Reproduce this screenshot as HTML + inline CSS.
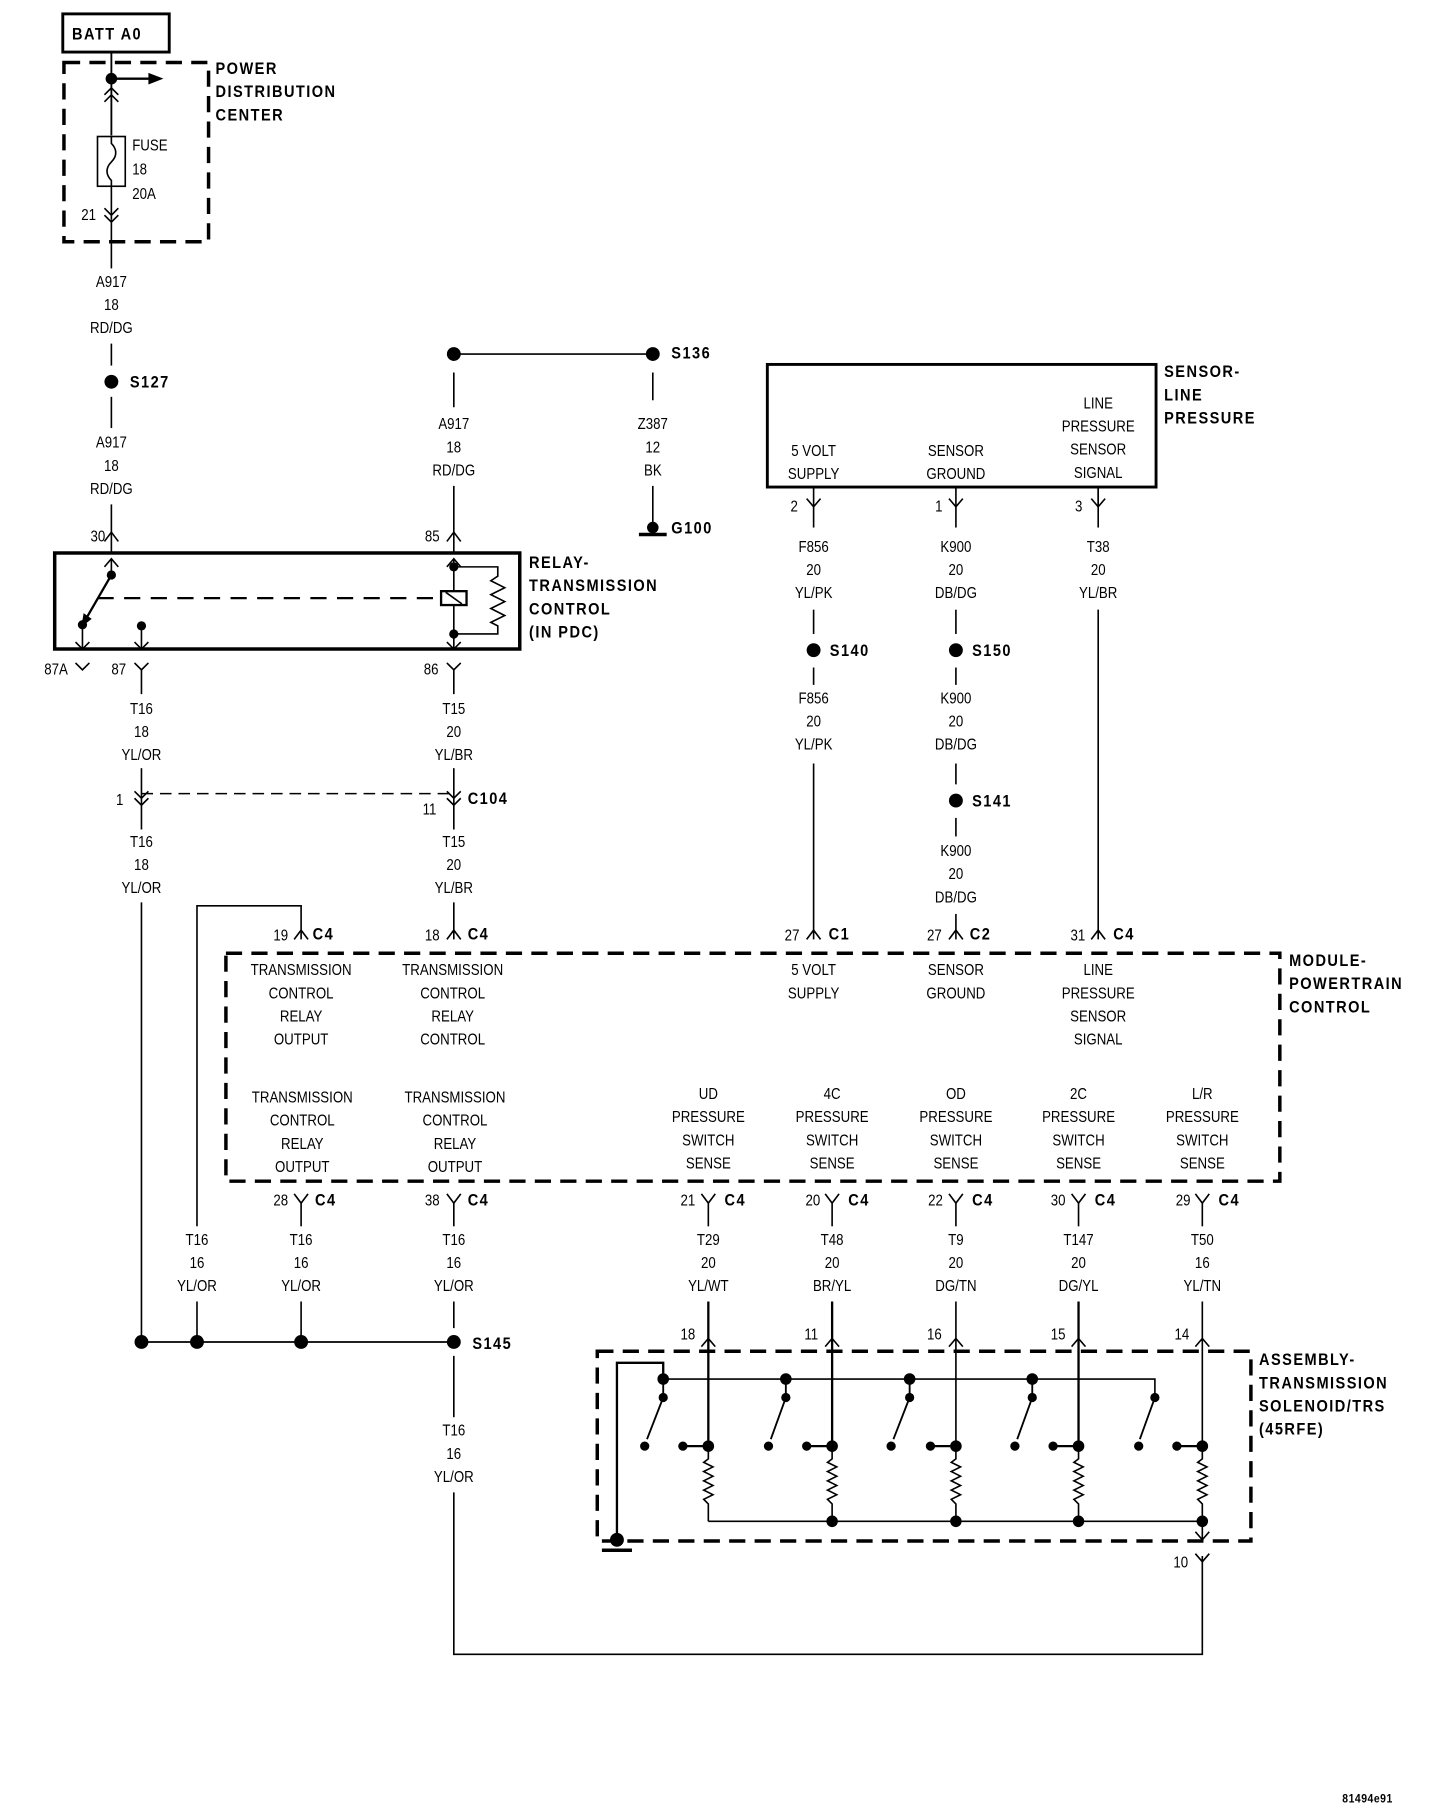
<!DOCTYPE html>
<html><head><meta charset="utf-8"><style>
html,body{margin:0;padding:0;background:#fff;}
svg{display:block}
text{font-family:"Liberation Sans Narrow","Liberation Sans",sans-serif;font-size:13.5px;fill:#000;transform-box:fill-box;transform-origin:left center;transform:scaleX(0.85)}
.c text,text.c{transform-origin:center}
.b text{font-weight:bold;font-size:14px;letter-spacing:1.4px;transform:scaleX(0.9)}
</style></head><body>
<svg width="1456" height="1814" viewBox="0 0 1258 1568" xmlns="http://www.w3.org/2000/svg">
<g fill="none" stroke="#000" stroke-width="1.4">
<rect x="54" y="12" width="92" height="33" stroke-width="2.5"/>
<rect x="55" y="54" width="125" height="155" stroke-width="3" stroke-dasharray="14 8"/>
<line x1="96" y1="45" x2="96" y2="117" stroke-width="1.6"/>
<line x1="96" y1="68" x2="130" y2="68" stroke-width="2"/>
<polyline points="90,82 96,76 102,82"/><polyline points="90,88 96,82 102,88"/>
<rect x="84" y="118" width="24" height="43"/>
<path d="M96,118 V124 C100,128 102,134 96,140 C90,146 92,152 96,156 V161 V190"/>
<polyline points="90,180 96,186 102,180"/><polyline points="90,186 96,192 102,186"/>
<line x1="96" y1="190" x2="96" y2="232"/>
<line x1="96" y1="297" x2="96" y2="316"/>
<line x1="96" y1="343" x2="96" y2="370"/>
<line x1="96" y1="436" x2="96" y2="478"/>
<polyline points="90,468 96,460 102,468"/>
<rect x="47" y="478" width="402" height="83" stroke-width="3"/>
<polyline points="90,490 96,483 102,490"/>
<line x1="96" y1="483" x2="96" y2="497"/>
<line x1="96" y1="497" x2="74" y2="535" stroke-width="2"/>
<line x1="84" y1="517" x2="381" y2="517" stroke-width="2" stroke-dasharray="14 9"/>
<rect x="381" y="511" width="22" height="12" stroke-width="2"/>
<line x1="385" y1="512" x2="399" y2="522"/>
<line x1="392" y1="483" x2="392" y2="511"/><line x1="392" y1="523" x2="392" y2="561"/>
<polyline points="386,490 392,483 398,490"/>
<polyline points="392,490 430,490 430,498 424,502 436,508 424,514 436,520 424,526 436,532 424,538 430,541 430,548 392,548"/>
<line x1="71" y1="540" x2="71" y2="561"/><polyline points="65,555 71,561 77,555"/>
<line x1="122" y1="541" x2="122" y2="561"/><polyline points="116,555 122,561 128,555"/>
<polyline points="386,555 392,561 398,555"/>
<polyline points="65,573 71,579 77,573"/>
<polyline points="116,573 122,579 128,573"/><line x1="122" y1="579" x2="122" y2="600"/>
<polyline points="386,573 392,579 398,573"/><line x1="392" y1="579" x2="392" y2="600"/>
<line x1="122" y1="664" x2="122" y2="717"/>
<line x1="392" y1="664" x2="392" y2="717"/>
<polyline points="116,684 122,690 128,684"/><polyline points="116,690 122,696 128,690"/>
<polyline points="386,684 392,690 398,684"/><polyline points="386,690 392,696 398,690"/>
<line x1="122" y1="686" x2="392" y2="686" stroke-dasharray="10 6"/>
<line x1="122" y1="780" x2="122" y2="1160"/>
<line x1="392" y1="780" x2="392" y2="812"/>
<polyline points="386,812 392,804 398,812"/>
<polyline points="170,1060 170,783 260,783 260,812"/>
<polyline points="254,812 260,804 266,812"/>
<line x1="392" y1="306" x2="564" y2="306"/>
<line x1="392" y1="322" x2="392" y2="352"/>
<line x1="392" y1="420" x2="392" y2="478"/>
<polyline points="386,468 392,460 398,468"/>
<line x1="564" y1="322" x2="564" y2="346"/>
<line x1="564" y1="420" x2="564" y2="456"/>
<line x1="552" y1="462" x2="576" y2="462" stroke-width="3"/>
<rect x="663" y="315" width="336" height="106" stroke-width="2.5"/>
<polyline points="697,431 703,438 709,431"/><line x1="703" y1="438" x2="703" y2="456"/>
<polyline points="820,431 826,438 832,431"/><line x1="826" y1="421" x2="826" y2="456"/>
<polyline points="943,431 949,438 955,431"/><line x1="949" y1="421" x2="949" y2="456"/>
<line x1="703" y1="421" x2="703" y2="438"/><line x1="949" y1="421" x2="949" y2="438"/>
<line x1="703" y1="527" x2="703" y2="548"/>
<line x1="703" y1="577" x2="703" y2="592"/>
<line x1="703" y1="660" x2="703" y2="812"/>
<polyline points="697,812 703,804 709,812"/>
<line x1="826" y1="527" x2="826" y2="548"/>
<line x1="826" y1="577" x2="826" y2="592"/>
<line x1="826" y1="660" x2="826" y2="678"/>
<line x1="826" y1="707" x2="826" y2="723"/>
<line x1="826" y1="790" x2="826" y2="812"/>
<polyline points="820,812 826,804 832,812"/>
<line x1="949" y1="527" x2="949" y2="812"/>
<polyline points="943,812 949,804 955,812"/>
<rect x="195" y="824" width="911" height="197" stroke-width="3" stroke-dasharray="14 8"/>
<g>
<polyline points="254,1032 260,1040 266,1032"/><line x1="260" y1="1040" x2="260" y2="1060"/>
<polyline points="386,1032 392,1040 398,1032"/><line x1="392" y1="1040" x2="392" y2="1060"/>
<polyline points="606,1032 612,1040 618,1032"/><line x1="612" y1="1040" x2="612" y2="1060"/>
<polyline points="713,1032 719,1040 725,1032"/><line x1="719" y1="1040" x2="719" y2="1060"/>
<polyline points="820,1032 826,1040 832,1032"/><line x1="826" y1="1040" x2="826" y2="1060"/>
<polyline points="926,1032 932,1040 938,1032"/><line x1="932" y1="1040" x2="932" y2="1060"/>
<polyline points="1033,1032 1039,1040 1045,1032"/><line x1="1039" y1="1040" x2="1039" y2="1060"/>
</g>
<line x1="170" y1="1125" x2="170" y2="1160"/>
<line x1="260" y1="1125" x2="260" y2="1160"/>
<line x1="392" y1="1125" x2="392" y2="1148"/>
<line x1="122" y1="1160" x2="392" y2="1160" stroke-width="1.6"/>
<line x1="392" y1="1172" x2="392" y2="1225"/>
<polyline points="392,1290 392,1430 1039,1430 1039,1345"/>
<polyline points="1033,1343 1039,1350 1045,1343"/>
<g>
<line x1="612" y1="1125" x2="612" y2="1250" stroke-width="2"/><polyline points="606,1164 612,1157 618,1164"/>
<line x1="719" y1="1125" x2="719" y2="1250" stroke-width="2"/><polyline points="713,1164 719,1157 725,1164"/>
<line x1="826" y1="1125" x2="826" y2="1250"/><polyline points="820,1164 826,1157 832,1164"/>
<line x1="932" y1="1125" x2="932" y2="1250" stroke-width="2"/><polyline points="926,1164 932,1157 938,1164"/>
<line x1="1039" y1="1125" x2="1039" y2="1250"/><polyline points="1033,1164 1039,1157 1045,1164"/>
</g>
<rect x="516" y="1168" width="565" height="164" stroke-width="3" stroke-dasharray="14 8"/>
<polyline points="533,1332 533,1178 573,1178 573,1192" stroke-width="2"/>
<polyline points="573,1192 998,1192 998,1208"/>
<g stroke-width="1.6">
<line x1="573" y1="1192" x2="573" y2="1208"/><line x1="573" y1="1208" x2="559" y2="1244"/>
<line x1="679" y1="1192" x2="679" y2="1208"/><line x1="679" y1="1208" x2="666" y2="1244"/>
<line x1="786" y1="1192" x2="786" y2="1208"/><line x1="786" y1="1208" x2="772" y2="1244"/>
<line x1="892" y1="1192" x2="892" y2="1208"/><line x1="892" y1="1208" x2="879" y2="1244"/>
<line x1="998" y1="1208" x2="985" y2="1244"/>
</g>
<g stroke-width="2">
<line x1="590" y1="1250" x2="612" y2="1250"/><line x1="697" y1="1250" x2="719" y2="1250"/>
<line x1="804" y1="1250" x2="826" y2="1250"/><line x1="910" y1="1250" x2="932" y2="1250"/>
<line x1="1017" y1="1250" x2="1039" y2="1250"/>
</g>
<g id="res">
<polyline points="612,1250 612,1261 608,1264 616,1268 608,1272 616,1276 608,1280 616,1284 608,1288 616,1292 608,1296 612,1300 612,1315"/>
</g>
<use href="#res" x="107"/><use href="#res" x="214"/><use href="#res" x="320"/><use href="#res" x="427"/>
<line x1="612" y1="1315" x2="1039" y2="1315"/>
<line x1="1039" y1="1315" x2="1039" y2="1332"/><polyline points="1033,1324 1039,1331 1045,1324"/>
<line x1="520" y1="1340" x2="546" y2="1340" stroke-width="3"/>
</g>
<g fill="#000">
<circle cx="96" cy="68" r="5"/><circle cx="96" cy="330" r="6"/>
<polygon points="128,63 141,68 128,73"/>
<circle cx="96" cy="497" r="4"/><circle cx="71" cy="540" r="4"/><circle cx="122" cy="541" r="4"/>
<polygon points="70,542 72,530 79,535"/>
<circle cx="392" cy="490" r="4"/><circle cx="392" cy="548" r="4"/>
<circle cx="392" cy="306" r="6"/><circle cx="564" cy="306" r="6"/><circle cx="564" cy="456" r="5"/>
<circle cx="703" cy="562" r="6"/><circle cx="826" cy="562" r="6"/><circle cx="826" cy="692" r="6"/>
<circle cx="122" cy="1160" r="6"/><circle cx="170" cy="1160" r="6"/><circle cx="260" cy="1160" r="6"/><circle cx="392" cy="1160" r="6"/>
<circle cx="573" cy="1192" r="5"/><circle cx="679" cy="1192" r="5"/><circle cx="786" cy="1192" r="5"/><circle cx="892" cy="1192" r="5"/>
<circle cx="573" cy="1208" r="4"/><circle cx="679" cy="1208" r="4"/><circle cx="786" cy="1208" r="4"/><circle cx="892" cy="1208" r="4"/><circle cx="998" cy="1208" r="4"/>
<circle cx="557" cy="1250" r="4"/><circle cx="664" cy="1250" r="4"/><circle cx="770" cy="1250" r="4"/><circle cx="877" cy="1250" r="4"/><circle cx="984" cy="1250" r="4"/>
<circle cx="590" cy="1250" r="4"/><circle cx="697" cy="1250" r="4"/><circle cx="804" cy="1250" r="4"/><circle cx="910" cy="1250" r="4"/><circle cx="1017" cy="1250" r="4"/>
<circle cx="612" cy="1250" r="5"/><circle cx="719" cy="1250" r="5"/><circle cx="826" cy="1250" r="5"/><circle cx="932" cy="1250" r="5"/><circle cx="1039" cy="1250" r="5"/>
<circle cx="719" cy="1315" r="5"/><circle cx="826" cy="1315" r="5"/><circle cx="932" cy="1315" r="5"/><circle cx="1039" cy="1315" r="5"/>
<circle cx="533" cy="1331" r="6"/>
</g>
<g class="b">
<text x="62" y="34">BATT A0</text>
<text x="186" y="64">POWER</text><text x="186" y="84">DISTRIBUTION</text><text x="186" y="104">CENTER</text>
<text x="112" y="335">S127</text>
<text x="457" y="491">RELAY-</text><text x="457" y="511">TRANSMISSION</text><text x="457" y="531">CONTROL</text><text x="457" y="551">(IN PDC)</text>
<text x="580" y="310">S136</text><text x="580" y="461">G100</text>
<text x="1006" y="326">SENSOR-</text><text x="1006" y="346">LINE</text><text x="1006" y="366">PRESSURE</text>
<text x="717" y="567">S140</text><text x="840" y="567">S150</text><text x="840" y="697">S141</text>
<text x="404" y="695">C104</text>
<text x="270" y="812">C4</text><text x="404" y="812">C4</text><text x="716" y="812">C1</text><text x="838" y="812">C2</text><text x="962" y="812">C4</text>
<text x="1114" y="835">MODULE-</text><text x="1114" y="855">POWERTRAIN</text><text x="1114" y="875">CONTROL</text>
<text x="272" y="1042">C4</text><text x="404" y="1042">C4</text><text x="626" y="1042">C4</text><text x="733" y="1042">C4</text><text x="840" y="1042">C4</text><text x="946" y="1042">C4</text><text x="1053" y="1042">C4</text>
<text x="408" y="1166">S145</text>
<text x="1088" y="1180">ASSEMBLY-</text><text x="1088" y="1200">TRANSMISSION</text><text x="1088" y="1220">SOLENOID/TRS</text><text x="1088" y="1240">(45RFE)</text>
<text x="1160" y="1558" style="font-size:10px;letter-spacing:0.5px">81494e91</text>
</g>
<g>
<text x="114" y="130">FUSE</text><text x="114" y="151">18</text><text x="114" y="172">20A</text>
<text x="70" y="190">21</text>
<text x="78" y="468">30</text><text x="367" y="468">85</text>
<text x="38" y="583">87A</text><text x="96" y="583">87</text><text x="366" y="583">86</text>
<text x="100" y="696">1</text><text x="365" y="704">11</text>
<text x="236" y="813">19</text><text x="367" y="813">18</text><text x="678" y="813">27</text><text x="801" y="813">27</text><text x="925" y="813">31</text>
<text x="683" y="442">2</text><text x="808" y="442">1</text><text x="929" y="442">3</text>
<text x="236" y="1042">28</text><text x="367" y="1042">38</text><text x="588" y="1042">21</text><text x="696" y="1042">20</text><text x="802" y="1042">22</text><text x="908" y="1042">30</text><text x="1016" y="1042">29</text>
<text x="588" y="1158">18</text><text x="695" y="1158">11</text><text x="801" y="1158">16</text><text x="908" y="1158">15</text><text x="1015" y="1158">14</text>
<text x="1014" y="1355">10</text>
</g>
<g class="c" text-anchor="middle">
<text x="96" y="248">A917</text><text x="96" y="268">18</text><text x="96" y="288">RD/DG</text>
<text x="96" y="387">A917</text><text x="96" y="407">18</text><text x="96" y="427">RD/DG</text>
<text x="392" y="371">A917</text><text x="392" y="391">18</text><text x="392" y="411">RD/DG</text>
<text x="564" y="371">Z387</text><text x="564" y="391">12</text><text x="564" y="411">BK</text>
<text x="703" y="394">5 VOLT</text><text x="703" y="414">SUPPLY</text>
<text x="826" y="394">SENSOR</text><text x="826" y="414">GROUND</text>
<text x="949" y="353">LINE</text><text x="949" y="373">PRESSURE</text><text x="949" y="393">SENSOR</text><text x="949" y="413">SIGNAL</text>
<text x="703" y="477">F856</text><text x="703" y="497">20</text><text x="703" y="517">YL/PK</text>
<text x="826" y="477">K900</text><text x="826" y="497">20</text><text x="826" y="517">DB/DG</text>
<text x="949" y="477">T38</text><text x="949" y="497">20</text><text x="949" y="517">YL/BR</text>
<text x="703" y="608">F856</text><text x="703" y="628">20</text><text x="703" y="648">YL/PK</text>
<text x="826" y="608">K900</text><text x="826" y="628">20</text><text x="826" y="648">DB/DG</text>
<text x="826" y="740">K900</text><text x="826" y="760">20</text><text x="826" y="780">DB/DG</text>
<text x="122" y="617">T16</text><text x="122" y="637">18</text><text x="122" y="657">YL/OR</text>
<text x="392" y="617">T15</text><text x="392" y="637">20</text><text x="392" y="657">YL/BR</text>
<text x="122" y="732">T16</text><text x="122" y="752">18</text><text x="122" y="772">YL/OR</text>
<text x="392" y="732">T15</text><text x="392" y="752">20</text><text x="392" y="772">YL/BR</text>
<text x="260" y="843">TRANSMISSION</text><text x="260" y="863">CONTROL</text><text x="260" y="883">RELAY</text><text x="260" y="903">OUTPUT</text>
<text x="391" y="843">TRANSMISSION</text><text x="391" y="863">CONTROL</text><text x="391" y="883">RELAY</text><text x="391" y="903">CONTROL</text>
<text x="703" y="843">5 VOLT</text><text x="703" y="863">SUPPLY</text>
<text x="826" y="843">SENSOR</text><text x="826" y="863">GROUND</text>
<text x="949" y="843">LINE</text><text x="949" y="863">PRESSURE</text><text x="949" y="883">SENSOR</text><text x="949" y="903">SIGNAL</text>
<text x="261" y="953">TRANSMISSION</text><text x="261" y="973">CONTROL</text><text x="261" y="993">RELAY</text><text x="261" y="1013">OUTPUT</text>
<text x="393" y="953">TRANSMISSION</text><text x="393" y="973">CONTROL</text><text x="393" y="993">RELAY</text><text x="393" y="1013">OUTPUT</text>
<text x="612" y="950">UD</text><text x="612" y="970">PRESSURE</text><text x="612" y="990">SWITCH</text><text x="612" y="1010">SENSE</text>
<text x="719" y="950">4C</text><text x="719" y="970">PRESSURE</text><text x="719" y="990">SWITCH</text><text x="719" y="1010">SENSE</text>
<text x="826" y="950">OD</text><text x="826" y="970">PRESSURE</text><text x="826" y="990">SWITCH</text><text x="826" y="1010">SENSE</text>
<text x="932" y="950">2C</text><text x="932" y="970">PRESSURE</text><text x="932" y="990">SWITCH</text><text x="932" y="1010">SENSE</text>
<text x="1039" y="950">L/R</text><text x="1039" y="970">PRESSURE</text><text x="1039" y="990">SWITCH</text><text x="1039" y="1010">SENSE</text>
<text x="170" y="1076">T16</text><text x="170" y="1096">16</text><text x="170" y="1116">YL/OR</text>
<text x="260" y="1076">T16</text><text x="260" y="1096">16</text><text x="260" y="1116">YL/OR</text>
<text x="392" y="1076">T16</text><text x="392" y="1096">16</text><text x="392" y="1116">YL/OR</text>
<text x="612" y="1076">T29</text><text x="612" y="1096">20</text><text x="612" y="1116">YL/WT</text>
<text x="719" y="1076">T48</text><text x="719" y="1096">20</text><text x="719" y="1116">BR/YL</text>
<text x="826" y="1076">T9</text><text x="826" y="1096">20</text><text x="826" y="1116">DG/TN</text>
<text x="932" y="1076">T147</text><text x="932" y="1096">20</text><text x="932" y="1116">DG/YL</text>
<text x="1039" y="1076">T50</text><text x="1039" y="1096">16</text><text x="1039" y="1116">YL/TN</text>
<text x="392" y="1241">T16</text><text x="392" y="1261">16</text><text x="392" y="1281">YL/OR</text>
</g>
</svg>
</body></html>
